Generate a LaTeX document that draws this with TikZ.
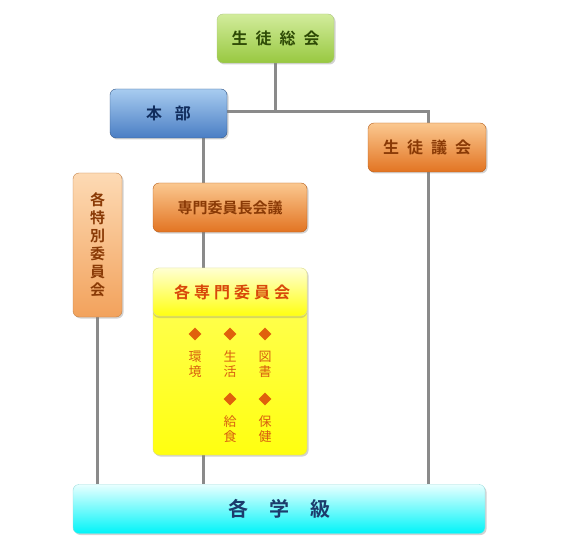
\documentclass[tikz,border=0pt]{standalone}
\usepackage{fontspec}
\setmainfont{Noto Sans CJK JP}[BoldFont={Noto Sans CJK JP Bold}]
\usetikzlibrary{shapes.geometric,backgrounds,shadows}
\definecolor{lineg}{HTML}{8A8A8A}
\definecolor{gtop}{HTML}{D2EC9C}\definecolor{gbot}{HTML}{98C840}\definecolor{gtxt}{HTML}{2E4A06}
\definecolor{btop}{HTML}{A8CCF0}\definecolor{bbot}{HTML}{4A7EC4}\definecolor{btxt}{HTML}{102C5C}
\definecolor{otop}{HTML}{FBC890}\definecolor{obot}{HTML}{E27422}\definecolor{otxt}{HTML}{8A3A06}
\definecolor{ltop}{HTML}{FDDAB4}\definecolor{lbot}{HTML}{F2A25C}
\definecolor{ytop}{HTML}{FFFF90}\definecolor{ybot}{HTML}{FFFF10}\definecolor{ytxt}{HTML}{D8480A}
\definecolor{dia}{HTML}{E0600C}\definecolor{itxt}{HTML}{D86010}
\definecolor{ctop}{HTML}{E8FFFF}\definecolor{cbot}{HTML}{00F4F8}\definecolor{ctxt}{HTML}{1C3C6C}
\begin{document}
\begin{tikzpicture}[x=1pt,y=-1pt,
  box/.style={rounded corners=6pt, inner sep=0pt, font=\bfseries,
    drop shadow={shadow xshift=1.5pt,shadow yshift=-1.5pt,opacity=0.35}},
  conn/.style={draw=lineg, line width=3pt},
  dmark/.style={diamond, fill=dia, inner sep=0pt, minimum size=13pt},
  itext/.style={text=itxt, font=\fontsize{13}{15}\selectfont, align=center, inner sep=0pt}]
\useasboundingbox (0,0) rectangle (567,548);
% nodes
\node[box, top color=gtop, bottom color=gbot, draw=gbot!80!black!60, minimum width=117pt, minimum height=49pt, text=gtxt, font=\bfseries\fontsize{16}{16}\selectfont] (sg) at (275.5,38.5) {生\hspace{8pt}徒\hspace{8pt}総\hspace{8pt}会};
\node[box, top color=btop, bottom color=bbot, draw=bbot!70!black, minimum width=117pt, minimum height=49pt, text=btxt, font=\bfseries\fontsize{16}{16}\selectfont] (hb) at (168.5,113.5) {本\hspace{13pt}部};
\node[box, top color=otop, bottom color=obot, draw=obot!80!black, minimum width=118pt, minimum height=49pt, text=otxt, font=\bfseries\fontsize{16}{16}\selectfont] (gk) at (427,147.5) {生\hspace{8pt}徒\hspace{8pt}議\hspace{8pt}会};
\node[box, top color=ltop, bottom color=lbot, draw=lbot!80!black, minimum width=49pt, minimum height=144pt, text=otxt, font=\bfseries\fontsize{15}{18}\selectfont, align=center] (tb) at (97.5,245) {各\\特\\別\\委\\員\\会};
\node[box, top color=otop, bottom color=obot, draw=obot!80!black, minimum width=154pt, minimum height=49pt, text=otxt, font=\bfseries\fontsize{15}{15}\selectfont] (cm) at (230,207.5) {専門委員長会議};
\node[box, top color=ytop!60!ybot, bottom color=ybot, draw=ybot!70!black!50, minimum width=154pt, minimum height=187pt] (yb) at (230,361.5) {};
\node[rounded corners=6pt, top color=ytop!40!white, bottom color=ybot, draw=ybot!70!black!40, minimum width=154pt, minimum height=48pt, inner sep=0pt, text=ytxt, font=\bfseries\fontsize{16}{16}\selectfont, drop shadow={shadow xshift=0pt,shadow yshift=-2pt,opacity=0.3}] (yh) at (230,292) {\hspace{4pt}各\hspace{4pt}専\hspace{4pt}門\hspace{4pt}委\hspace{4pt}員\hspace{4pt}会};
\node[box, top color=ctop, bottom color=cbot, draw=cbot!70!black!40, minimum width=412pt, minimum height=49pt, text=ctxt, font=\bfseries\fontsize{20}{20}\selectfont] (gq) at (279,509) {各\hspace{21pt}学\hspace{21pt}級};
% inner items
\node[dmark] (d1) at (195,334) {};
\node[dmark] (d2) at (230,334) {};
\node[dmark] (d3) at (265,334) {};
\node[dmark] (d4) at (230,399) {};
\node[dmark] (d5) at (265,399) {};
\node[itext] (t1) at (195,364) {環\\境};
\node[itext] (t2) at (230,364) {生\\活};
\node[itext] (t3) at (265,364) {図\\書};
\node[itext] (t4) at (230,429) {給\\食};
\node[itext] (t5) at (265,429) {保\\健};
% connectors
\coordinate (px) at (203,0);
\coordinate (rx) at (428,0);
\coordinate (jy) at (0,111.5);
\begin{scope}[on background layer]
\draw[conn] (sg.south) -- (sg.south |- jy);
\draw[conn] (hb.east |- jy) -- (rx |- jy) -- (rx |- gq.north);
\draw[conn] (hb.south -| px) -- (gq.north -| px);
\draw[conn] (tb.south) -- (tb.south |- gq.north);
\end{scope}
\end{tikzpicture}
\end{document}
